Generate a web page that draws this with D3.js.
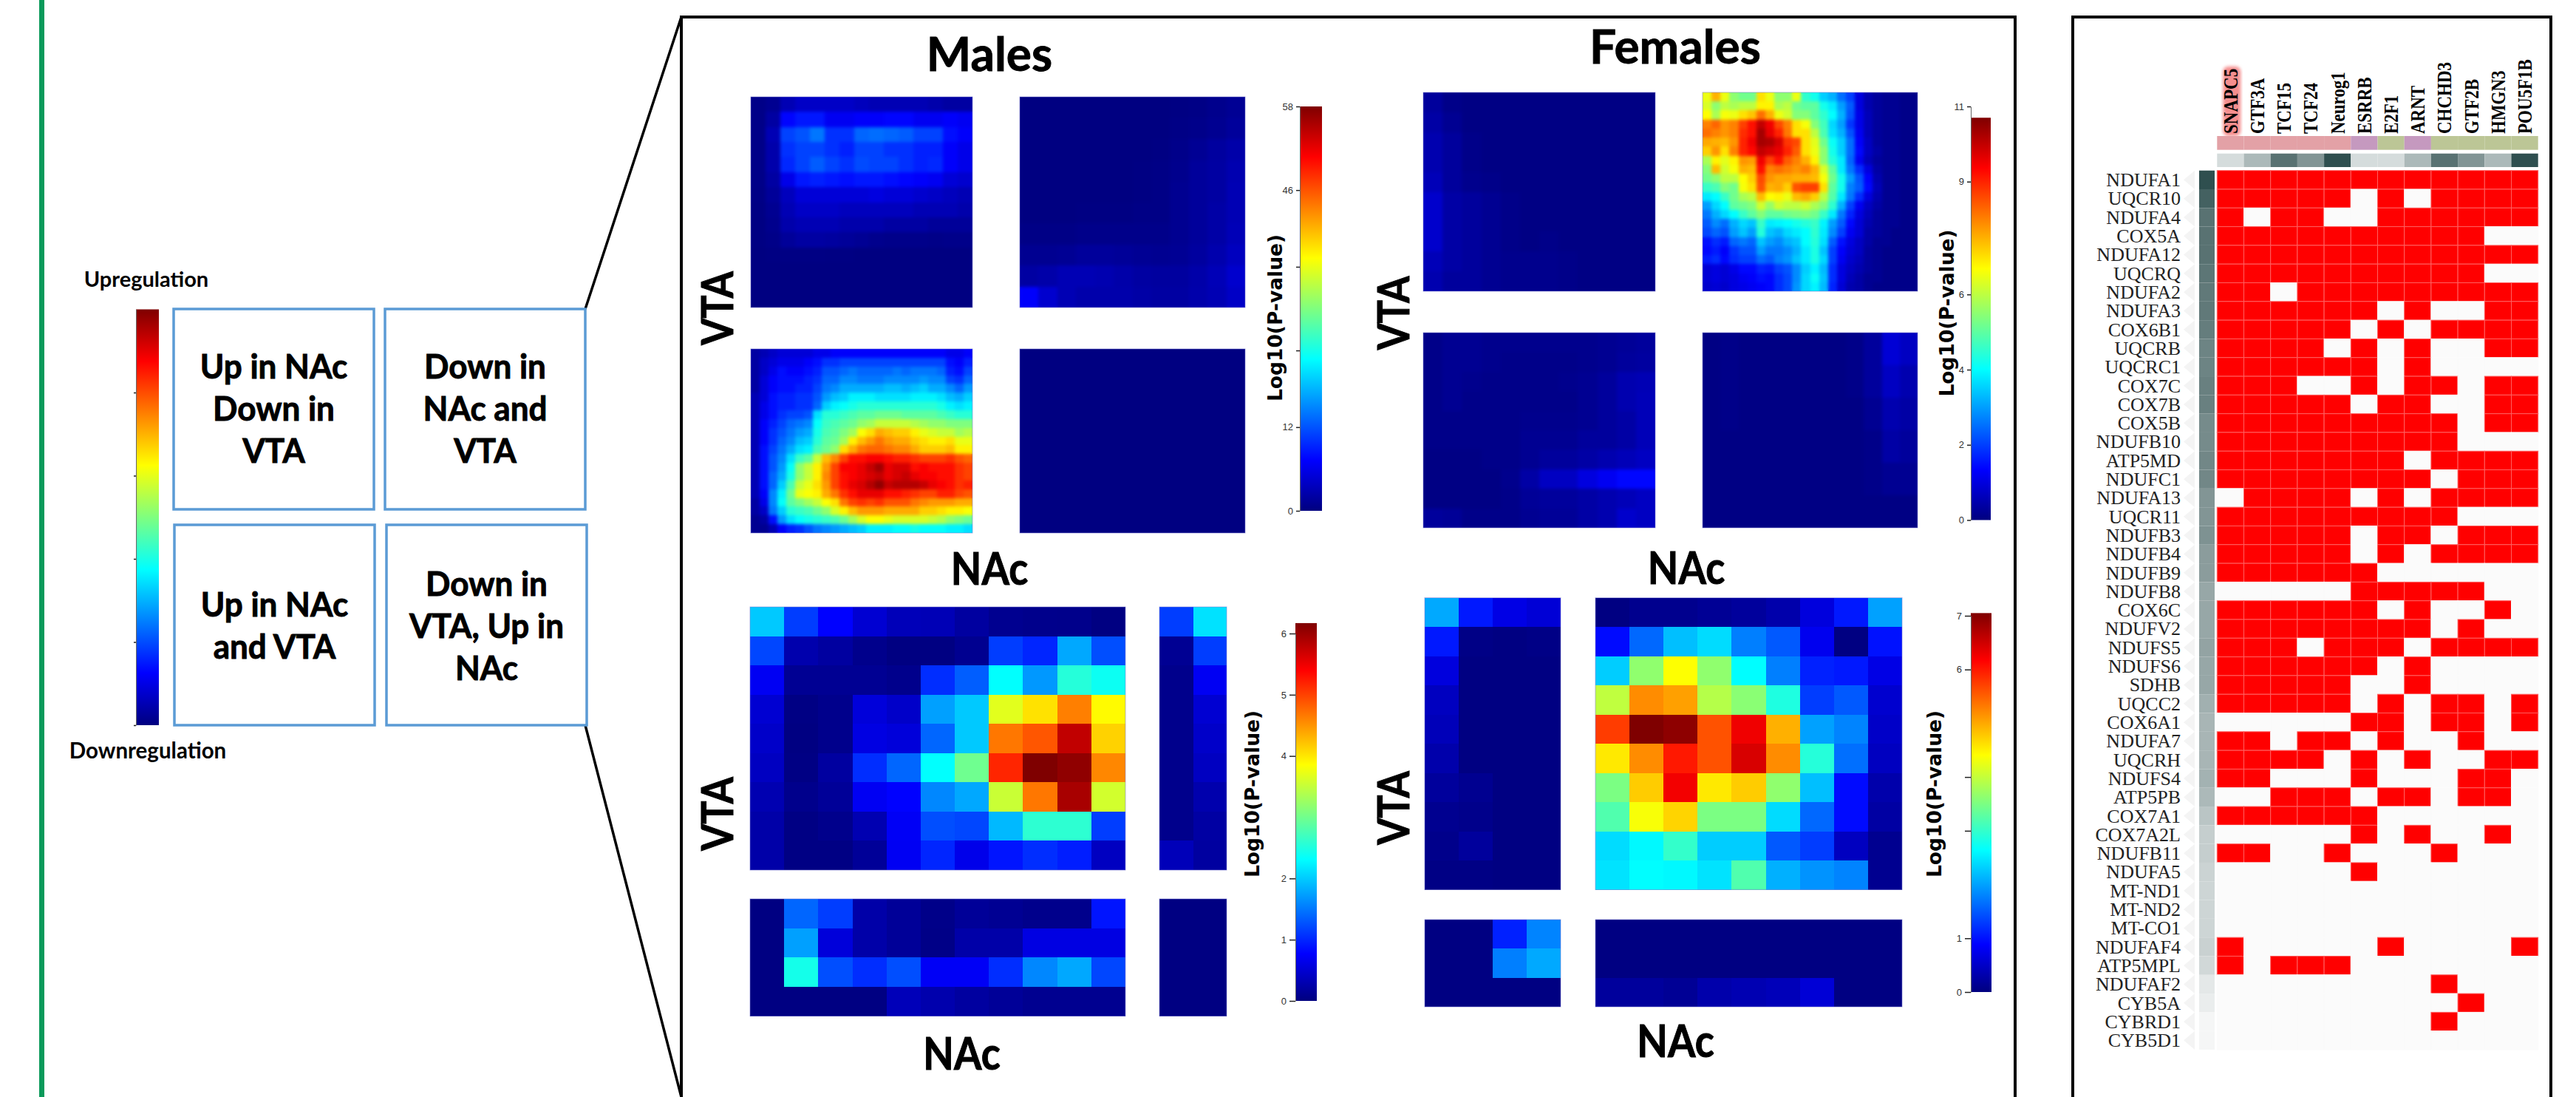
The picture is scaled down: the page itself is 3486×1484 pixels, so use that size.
<!DOCTYPE html>
<html>
<head>
<meta charset="utf-8">
<script src="https://cdn.jsdelivr.net/npm/d3@7"></script>
<style>
body { margin: 0; background: #fff; }
text { font-family: Lato, "Open Sans", sans-serif; font-weight: 700; fill: #000; }
.big { stroke: #000; stroke-width: 0.9px; }
.axis_lbl { font-family: "DejaVu Sans", sans-serif; }
.tick text { font-family: "Liberation Sans Narrow", "Liberation Sans", sans-serif; font-weight: 400; fill: #333; }
.gene { font-family: "Liberation Serif", serif; font-weight: 400; fill: #222; }
.reg { font-family: "Liberation Serif", serif; font-weight: 700; }
</style>
</head>
<body>
<script>
// jet colormap
const a_jet_pos = [0, 0.125, 0.25, 0.375, 0.5, 0.625, 0.75, 0.875, 1];
const a_jet = ["#00007f", "#0000ff", "#007fff", "#00ffff", "#7fff7f", "#ffff00", "#ff7f00", "#ff0000", "#7f0000"];

// ---- quadrant key
const a_key_ticks = [0, 1, 2, 3, 4];
const a_quad_text = [
    ["Up in NAc", "Down in", "VTA"],
    ["Down in", "NAc and", "VTA"],
    ["Up in NAc", "and VTA"],
    ["Down in", "VTA, Up in", "NAc"]
];

// ---- Males, RRHO panels, Log10(P-value)
const a_male_ul = [
    [.5,1,3,4,4,4,4,3.5,3,3,3,3,2.5,2,2],
    [.5,2,7.5,8.5,8.5,6.5,6.5,7,7,7.5,7.5,6.5,6.5,7,6.5],
    [.5,3,11,12,14,10,10,13,13.5,13,12.5,11,11,8,7],
    [.5,2.5,10,11,11,10,9,11,11,10,10,9,9,7,6],
    [.5,2.5,9.5,11,12.5,11,10,11.5,11,11,10,9,9.5,7,6],
    [.5,2,6,8.5,9,8.5,8,8.5,8.5,8,7.5,7,6.5,5,4.5],
    [.4,1.5,3.5,5,5,5,5,5,5.5,5,5,4.5,4,3.5,3],
    [.3,1,3,4,4,4,3.5,3.5,3.5,3.5,3.5,3,3,3,2.5],
    [.2,.8,2.5,3,3,3,2.5,2.5,2.5,2,2,2,1.5,1.5,1.5],
    [.2,.5,1.5,2,2,1.8,1.5,1.2,.8,.6,.6,.6,.5,.6,.6],
    [.1,.2,.3,.3,.3,.2,.2,.1,.1,.1,.1,.1,.1,.1,.1],
    [.1,.1,.1,.1,.1,.1,.1,.1,.1,.1,.1,.1,.1,.1,.1],
    [.1,.1,.1,.1,.1,.1,.1,.1,.1,.1,.1,.1,.1,.1,.1],
    [.1,.1,.1,.1,.1,.1,.1,.1,.1,.1,.1,.1,.1,.1,.1]
];
const a_male_ur = [
    [.1,.1,.1,.1,.1,.1,.1,.1,.2,.4,.8,1.2],
    [.1,.1,.1,.1,.1,.1,.1,.1,.4,.6,1,1.6],
    [.1,.1,.1,.1,.1,.1,.1,.2,.6,1.2,1.8,2.4],
    [.1,.1,.1,.1,.1,.1,.2,.4,.8,1.6,2,2.8],
    [.1,.1,.1,.1,.1,.1,.2,.4,1,1.6,2,3],
    [.1,.1,.1,.2,.2,.2,.4,.4,1,1.6,2.2,3],
    [.4,.4,.4,.6,.6,.6,.6,.6,1,1.6,2.2,3.2],
    [1,1,1.2,1.6,1.6,1.4,1.2,1,1.2,1.8,2.6,3.6],
    [2,2.4,3,3,2.8,2.4,2,1.8,1.8,2.4,3.2,4.4],
    [7,4.5,3,2.5,2.5,2.5,2.2,2,2,2.5,3,4]
];
const a_male_ll = [
    [2,3,4,5,5,5,5,6,6,7,7,7,7,7,7,7,7,7,7,7,7,7,6,6,7],
    [2,4,5,6,6,6,7,8,10,10,11,11,11,11,11,11,11,11,11,11,11,11,8,7,9],
    [2,4,6,8,7,7,8,9,12,12,13,14,13,13,13,13,14,13,14,14,14,13,9,8,11],
    [2,5,7,8,8,8,9,10,13,13,15,15,14,14,14,15,15,15,15,16,15,15,11,10,13],
    [2,5,7,8,8,9,9,11,14,15,17,17,17,17,17,18,18,17,18,19,17,17,15,13,16],
    [3,5,8,9,9,10,10,12,16,18,19,21,21,21,20,20,20,20,21,21,21,20,18,17,19],
    [3,6,8,9,9,10,10,13,19,21,22,23,24,24,24,24,24,24,24,24,24,23,21,20,21],
    [3,6,8,10,11,11,12,20,24,24,25,26,27,27,28,28,28,27,27,27,27,26,25,24,24],
    [3,7,9,11,13,14,15,22,25,26,27,28,30,31,33,33,33,33,32,31,30,30,29,29,29],
    [3,7,10,12,14,16,17,23,26,27,29,31,36,38,41,40,39,39,37,35,34,33,33,31,32],
    [3,7,10,13,15,18,19,24,27,28,31,37,40,42,44,42,41,41,39,38,37,37,38,35,35],
    [3,8,11,14,17,20,21,26,28,30,38,41,44,45,45,44,43,43,41,39,39,39,40,37,37],
    [3,8,12,15,20,25,27,33,40,43,47,50,50,51,51,50,49,49,48,47,47,47,48,46,45],
    [3,8,12,16,22,30,33,37,42,47,51,51,52,54,56,52,53,53,50,51,50,50,50,48,47],
    [3,8,13,17,23,30,33,37,43,47,50,51,52,53,54,52,53,54,52,51,51,50,50,48,47],
    [3,8,13,19,26,33,35,38,42,47,50,52,53,55,57,54,55,55,55,54,52,51,50,48,49],
    [3,7,15,21,28,35,36,37,41,44,48,50,52,52,52,50,50,49,48,47,47,49,49,47,46],
    [2,6,15,22,27,29,31,33,36,38,44,47,48,47,48,46,46,46,44,43,42,42,42,41,41],
    [2,4,14,19,24,25,26,28,30,34,37,40,42,42,42,41,41,41,41,39,39,38,37,37,36],
    [1,2,8,16,20,22,23,24,25,26,28,31,34,36,36,35,34,34,34,34,33,32,30,29,28],
    [1,1,3,7,9,10,12,14,15,16,17,18,19,21,21,21,22,22,23,22,22,22,21,21,20]
];
const a_male_lr = [[.1]];
const a_male_ticks = [0, 12, 23, 35, 46, 58];
const a_male_labels = [0, 12, 46, 58];

// ---- Females, RRHO panels
const a_female_ul = [
    [.3,.1,.05,.05,.05,.05,.05,.05,.05,.05,.05,.05],
    [.4,.2,.05,.05,.05,.05,.05,.05,.05,.05,.05,.05],
    [.5,.3,.1,.05,.05,.05,.05,.05,.05,.05,.05,.05],
    [.5,.3,.1,.05,.05,.05,.05,.05,.05,.05,.05,.05],
    [.6,.3,.15,.1,.05,.05,.05,.05,.05,.05,.05,.05],
    [.8,.4,.3,.2,.1,.05,.05,.05,.05,.05,.05,.05],
    [.8,.4,.3,.2,.1,.05,.05,.05,.05,.05,.05,.05],
    [.8,.4,.3,.2,.1,.05,.1,.05,.05,.05,.05,.05],
    [.6,.4,.3,.2,.15,.15,.15,.1,.05,.05,.05,.05],
    [.5,.3,.3,.2,.15,.15,.15,.1,.05,.05,.05,.05]
];
const a_female_ur = [
    [6.5,7.5,6.5,5.5,5.2,5.2,7,6.5,5.5,5.5,6.5,4.5,4.2,3.5,3.2,2.5,2,1,.5,.3,.2,.2,.1,.1],
    [6.3,5.5,6,5.8,6,6,6.8,6.8,5.8,6,5.2,5,5,4.2,3.8,3,2.3,1,.5,.3,.2,.2,.1,.1],
    [6.7,5.8,6.6,6.5,7,7.3,8.2,7.5,6.5,6.2,5.4,5.4,5,4.5,4,3.2,2.2,1.1,.6,.3,.2,.2,.1,.1],
    [8,8.3,7.8,8,8.7,9.2,10,9.5,8.6,8,7,6.6,5.4,4.7,3.6,3,1.9,1.1,.6,.3,.2,.2,.1,.1],
    [8.2,8,7.8,8,8.9,9.2,10.3,9.6,9,8.1,7,7,6,4.8,3.7,3.2,2.2,1.2,.6,.3,.2,.2,.1,.1],
    [7.6,7.5,7.4,7.8,9,9.5,10.3,10.2,9.8,8.8,8.6,7,6.4,5.2,4.1,3.5,2.5,1.3,.7,.3,.2,.2,.1,.1],
    [7.2,7.8,7,8,9,9.3,10,9.8,9.6,9,8.4,7,6.5,5.5,4.2,3.5,2.5,1.4,.7,.4,.2,.2,.1,.1],
    [5.8,6.8,6.4,6.8,7.8,7.7,9.5,8.7,9.2,8.4,8,7.5,6.8,5.5,4.4,3.8,2.4,1.2,.6,.3,.2,.2,.1,.1],
    [5.4,7.4,6.2,6.6,7.5,7.4,9.2,8,8.2,8,7.8,8,7.5,6.3,5,3.8,2.6,1.8,1,.4,.2,.2,.1,.1],
    [5.2,5.5,6,6,6.7,7.2,8.6,7.8,7.6,7.6,7.5,7.5,7.4,6.6,5.2,4.2,3,2.2,1.3,.5,.2,.2,.1,.1],
    [4.6,4.8,5.4,5.2,6.6,7,8.5,7.5,7.6,7.2,8.5,8.7,8.7,7,5,4.2,2.7,2.3,1.4,.6,.2,.2,.1,.1],
    [3.8,4,4.6,5.2,5.8,6,7.4,6.7,6.8,6.5,7.4,7.6,7.2,6,4.9,3.8,2.6,1.8,1,.5,.2,.2,.1,.1],
    [3,3.6,4,5,5.2,5.4,6.2,5.6,6.2,6,6,6.2,5.8,5.4,4.5,3.2,2,1.2,.7,.4,.2,.2,.1,.1],
    [2.6,3.2,3.6,4,4.6,5,5.4,5,5,5.2,5.3,5.4,5.2,4.6,3.8,2.6,1.7,1,.6,.3,.2,.2,.1,.1],
    [2.3,2.8,2.5,3.2,3.6,3.4,4.6,3.8,3.9,4,4.2,4.4,4.6,3.9,3,2.3,1.4,.9,.5,.3,.2,.2,.1,.1],
    [2.1,2.4,2.2,3,3.4,3,4.4,3.4,3.2,3.6,3.8,4,4.5,3.8,2.8,2,1.2,.9,.4,.3,.2,.1,.1,.1],
    [1.5,1.8,1.6,2.4,2.6,2.4,3.4,3,2.8,3.2,3.4,4,4.4,3.7,2.3,1.5,1,.7,.4,.2,.2,.1,.1,.1],
    [1.4,1.6,1.3,1.9,2.2,2.2,3,2.6,2.6,2.8,3.2,3.8,4.3,3.4,2,1.3,.9,.7,.3,.2,.1,.1,.1,.1],
    [1.6,1.8,1.4,1.8,2,2,2.5,2.3,2.7,2.9,3.4,3.8,4.3,3.6,2,1.2,.8,.6,.3,.2,.1,.1,.1,.1],
    [.9,1,.9,1.1,1.4,1.4,1.7,1.6,2,2.2,2.8,3.5,3.9,3.3,1.8,1,.7,.5,.3,.2,.1,.1,.1,.1],
    [.9,1,.9,1,1.2,1.3,1.5,1.4,1.8,2.1,2.8,3.6,4.1,3.4,1.8,1,.6,.4,.2,.2,.1,.1,.1,.1],
    [.8,.9,.8,1,1.1,1.2,1.3,1.4,1.8,2.1,2.9,3.6,3.9,3.3,1.7,.9,.5,.4,.2,.1,.1,.1,.1,.1]
];
const a_female_ll = [
    [.1,.2,.2,.15,.15,.15,.15,.15,.15,.2,.25,.3],
    [.1,.2,.2,.15,.1,.1,.1,.1,.15,.2,.3,.35],
    [.1,.2,.15,.1,.1,.1,.1,.15,.2,.3,.5,.55],
    [.1,.2,.1,.1,.1,.1,.1,.1,.2,.3,.5,.6],
    [.1,.1,.1,.1,.1,.15,.15,.15,.2,.3,.4,.6],
    [.1,.1,.1,.1,.1,.2,.2,.2,.3,.3,.4,.6],
    [.05,.05,.05,.1,.1,.2,.3,.3,.4,.5,.6,.7],
    [.05,.05,.05,.05,.15,.4,.7,.7,1,1.2,1.4,1.4],
    [.05,.05,.05,.05,.1,.25,.3,.3,.4,.5,.6,.7],
    [.3,.25,.1,.1,.1,.2,.25,.25,.4,.5,.8,.7]
];
const a_female_lr = [
    [.05,.1,.05,.05,.05,.05,.05,.05,.1,.3,.9,.7],
    [.05,.1,.05,.05,.05,.05,.05,.05,.1,.3,.7,.5],
    [.05,.1,.05,.05,.05,.05,.05,.05,.05,.2,.5,.4],
    [.05,.05,.05,.05,.05,.05,.05,.05,.05,.1,.4,.3],
    [.05,.05,.05,.05,.05,.05,.05,.05,.05,.1,.2,.2],
    [.05,.05,.05,.05,.05,.05,.05,.05,.05,.05,.05,.05]
];
const a_female_ticks = [0, 2, 4, 6, 9, 11];

// ---- Males, binned panels
const a_mbin_main = [
    [2.0,1.15,.78,.5,.35,.33,.2,.1,.08,.07,.02],
    [1.2,.28,.2,.08,.02,.02,.1,1.15,1.0,1.8,1.25],
    [.7,.12,.12,.12,.08,1.05,1.35,2.33,1.7,2.55,2.4],
    [.5,.03,.08,.55,.45,1.75,2.0,3.7,4.05,4.65,3.9],
    [.45,.02,.08,.6,.55,1.4,2.0,4.7,4.9,5.8,4.15],
    [.4,.03,.2,1.05,1.4,2.33,3.0,5.2,6.2,6.1,4.6],
    [.3,.08,.15,.7,.78,1.6,1.8,3.55,4.7,5.95,3.6],
    [.25,.03,.08,.3,.72,1.25,1.2,1.9,2.6,2.6,1.15],
    [.25,.03,.03,.15,.7,1.0,.65,.9,1.05,.95,.4]
];
const a_mbin_side = [
    [1.15,2.15],[.12,1.15],[.08,.7],[.08,.5],[.08,.45],[.08,.4],[.08,.28],[.08,.22],[.35,.2]
];
const a_mbin_bottom = [
    [.02,1.4,1.15,.25,.15,.06,.15,.12,.08,.08,.9],
    [.02,1.75,.55,.25,.15,.05,.25,.25,.6,.6,.6],
    [.02,2.45,1.25,1.05,1.25,.72,.72,1.05,1.6,1.8,1.2],
    [.02,.02,.02,.02,.35,.28,.2,.15,.1,.1,.1]
];
const a_mbin_corner = [
    [.02,.02],[.02,.02],[.02,.02],[.02,.02]
];
const a_mbin_ticks = [0, 1, 2, 4, 5, 6];

// ---- Females, binned panels
const a_fbin_main = [
    [.02,.1,.1,.15,.2,.3,.65,1.05,2.0],
    [.95,1.6,2.2,2.4,1.76,1.5,.77,.02,1.0],
    [2.3,3.64,4.4,3.64,2.64,1.76,1.1,1.05,.7],
    [3.97,5.2,5.06,3.9,3.6,2.85,1.3,1.5,.55],
    [5.75,7.05,6.95,5.6,6.27,4.95,2.0,1.8,.5],
    [4.56,5.2,6.0,5.6,6.44,5.2,2.9,1.65,.45],
    [3.5,4.76,6.25,4.56,4.76,3.64,2.2,.95,.3],
    [3.2,4.36,4.7,3.5,3.5,2.4,1.6,.95,.25],
    [2.4,2.6,3.0,2.3,2.3,1.5,1.3,.45,.12],
    [2.45,2.64,2.6,2.45,3.2,2.1,1.9,1.8,.12]
];
const a_fbin_side = [
    [2.05,1.05,.7,.6],
    [1.05,.05,.02,.05],
    [.65,.02,.02,.02],
    [.45,.02,.02,.02],
    [.4,.02,.02,.02],
    [.3,.02,.02,.02],
    [.2,.12,.02,.02],
    [.12,.08,.02,.02],
    [.08,.2,.02,.02],
    [.04,.04,.02,.02]
];
const a_fbin_bottom = [
    [.02,.02,.02,.02,.02,.02,.02,.02,.02],
    [.02,.02,.02,.02,.02,.02,.02,.02,.02],
    [.2,.2,.15,.3,.35,.4,.6,.02,.02]
];
const a_fbin_corner = [
    [.02,.02,1.1,1.8],
    [.02,.02,1.76,2.05],
    [.02,.02,.02,.02]
];
const a_fbin_ticks = [0, 1, 3, 4, 6, 7];

// ---- regulators / target genes
const a_regulators = ["SNAPC5", "GTF3A", "TCF15", "TCF24", "Neurog1", "ESRRB", "E2F1", "ARNT", "CHCHD3", "GTF2B", "HMGN3", "POU5F1B"];
const a_reg_class = [0, 0, 0, 0, 0, 1, 2, 1, 2, 2, 2, 2];
const a_reg_level = [.2, .4, .8, .6, 1, .2, .2, .4, .8, .6, .4, 1];
const a_genes = ["NDUFA1", "UQCR10", "NDUFA4", "COX5A", "NDUFA12", "UQCRQ", "NDUFA2", "NDUFA3", "COX6B1", "UQCRB", "UQCRC1", "COX7C", "COX7B", "COX5B", "NDUFB10", "ATP5MD", "NDUFC1", "NDUFA13", "UQCR11", "NDUFB3", "NDUFB4", "NDUFB9", "NDUFB8", "COX6C", "NDUFV2", "NDUFS5", "NDUFS6", "SDHB", "UQCC2", "COX6A1", "NDUFA7", "UQCRH", "NDUFS4", "ATP5PB", "COX7A1", "COX7A2L", "NDUFB11", "NDUFA5", "MT-ND1", "MT-ND2", "MT-CO1", "NDUFAF4", "ATP5MPL", "NDUFAF2", "CYB5A", "CYBRD1", "CYB5D1"];
const a_gene_level = [1, .9, .8, .8, .8, .78, .76, .76, .74, .7, .7, .72, .72, .66, .66, .68, .68, .6, .6, .62, .56, .56, .5, .5, .5, .52, .5, .5, .45, .42, .42, .42, .44, .4, .33, .28, .28, .25, .24, .24, .24, .26, .22, .13, .1, .05, .05];
const a_hits = [
    "111111111111", "111110101111", "101100111111", "111111111100", "111111111111",
    "111111111100", "110111111111", "111111010011", "111110101111", "111101010011",
    "111111010000", "111001011011", "111110110011", "111111111011", "111111111000",
    "111111101111", "111111110111", "011110101111", "111111111000", "111110110111",
    "111110101111", "111111000000", "000001111100", "111111010010", "111111110100",
    "111011101111", "111111010000", "111110010000", "111110101101", "000001101101",
    "110110100100", "111101010011", "110001000110", "001110110110", "111111000000",
    "000001010010", "110010001000", "000001000000", "000000000000", "000000000000",
    "000000000000", "100000100001", "101110000000", "000000001000", "000000000100",
    "000000001000", "000000000000"
];

const a_class_colors = ["#e3a1a6", "#c599bf", "#bcc696"];

const svg = d3.select("body").append("svg")
    .attr("width", 3486).attr("height", 1484)
    .style("display", "block");
const defs = svg.append("defs");

defs.append("filter").attr("id", "f_smooth")
    .attr("color-interpolation-filters", "sRGB")
    .append("feGaussianBlur").attr("stdDeviation", 2);
defs.append("filter").attr("id", "f_glow")
    .append("feGaussianBlur").attr("stdDeviation", 2);
const grad = defs.append("linearGradient").attr("id", "g_jet")
    .attr("x1", 0).attr("y1", 1).attr("x2", 0).attr("y2", 0);
a_jet.forEach(function(c, i) {
    grad.append("stop").attr("offset", a_jet_pos[i]).attr("stop-color", c);
});

const jet = d3.scaleLinear().domain(a_jet_pos).range(a_jet);
var v_clip = 0;

function draw_cells(g, a_rows, box, v_max) {
    var x = d3.scaleBand().domain(d3.range(a_rows[0].length)).range([box.x, box.x + box.w]);
    var y = d3.scaleBand().domain(d3.range(a_rows.length)).range([box.y, box.y + box.h]);
    a_rows.forEach(function(row, r) {
        g.selectAll(".c" + r)
            .data(row)
            .enter().append("rect")
            .attr("x", function(d, i) { return x(i); })
            .attr("y", y(r))
            .attr("width", x.bandwidth())
            .attr("height", y.bandwidth())
            .attr("shape-rendering", "crispEdges")
            .attr("fill", function(d) { return jet(Math.min(d / v_max, 1)); });
    });
}

function draw_heatmap(a_rows, box, v_max, b_smooth) {
    var g = svg.append("g");
    draw_cells(g, a_rows, box, v_max);
    if (b_smooth) {
        v_clip++;
        defs.append("clipPath").attr("id", "clip" + v_clip)
            .append("rect").attr("x", box.x).attr("y", box.y).attr("width", box.w).attr("height", box.h);
        var g_s = svg.append("g").attr("clip-path", "url(#clip" + v_clip + ")")
            .append("g").attr("filter", "url(#f_smooth)");
        draw_cells(g_s, a_rows, box, v_max);
    }
    svg.append("rect")
        .attr("x", box.x).attr("y", box.y).attr("width", box.w).attr("height", box.h)
        .attr("fill", "none").attr("stroke", "#7a7ad0").attr("stroke-opacity", 0.55).attr("stroke-width", 1);
}

function draw_bar(x, w, y_0, y_top, v_top, v_max, a_ticks, a_labels, v_tick) {
    var y = d3.scaleLinear().domain([0, v_top]).range([y_0, y_top]);
    svg.append("rect")
        .attr("x", x).attr("y", y(v_max)).attr("width", w).attr("height", y(0) - y(v_max))
        .attr("fill", "url(#g_jet)");
    var axis = d3.axisLeft(y).tickValues(a_ticks).tickSize(v_tick).tickSizeOuter(0).tickPadding(4)
        .tickFormat(function(d) { return a_labels.indexOf(d) >= 0 ? d : ""; });
    var g = svg.append("g").attr("transform", `translate(${x},0)`).call(axis);
    g.selectAll("text").style("font-size", "13px");
    g.selectAll("line").attr("stroke", "#222").attr("stroke-width", 1.5);
    g.select(".domain").attr("stroke", "#666").attr("stroke-width", 1);
}

function big_text(v_txt, x, y, v_size, v_stretch) {
    svg.append("text").attr("class", "big")
        .attr("transform", `translate(${x},${y}) scale(1,${v_stretch || 1})`)
        .attr("text-anchor", "middle").style("font-size", v_size + "px").text(v_txt);
}
function plain_text(v_txt, x, y, v_size) {
    svg.append("text").attr("x", x).attr("y", y)
        .attr("text-anchor", "middle").style("font-size", v_size + "px").text(v_txt);
}
function rot_text(v_txt, x, y, v_size, v_class, v_stretch) {
    svg.append("text").attr("class", v_class)
        .attr("transform", `translate(${x},${y}) rotate(-90) scale(1,${v_stretch || 1})`)
        .attr("text-anchor", "middle").style("font-size", v_size + "px").text(v_txt);
}

// green rule and frames
svg.append("rect").attr("x", 53).attr("y", 0).attr("width", 7).attr("height", 1484).attr("fill", "#0b9a5b");
svg.append("path").attr("d", "M922,1484V23H2727V1484").attr("fill", "none").attr("stroke", "#000").attr("stroke-width", 4);
svg.append("path").attr("d", "M2805,1484V23H3452V1484").attr("fill", "none").attr("stroke", "#000").attr("stroke-width", 4);
svg.append("path").attr("d", "M792,418L922,23M792,981L922,1484").attr("fill", "none").attr("stroke", "#000").attr("stroke-width", 3.5);

// quadrant key
plain_text("Upregulation", 198, 388, 29);
plain_text("Downregulation", 200, 1026, 29.5);
draw_bar(184, 31, 981, 418.5, 5, 5, a_key_ticks, [], 3);

const a_quad_box = [
    {x: 235, y: 418, w: 271, h: 271, base: 512},
    {x: 521, y: 418, w: 271, h: 271, base: 512},
    {x: 236, y: 710, w: 271, h: 271, base: 833.5},
    {x: 523, y: 710, w: 271, h: 271, base: 806}
];
a_quad_box.forEach(function(b, i) {
    svg.append("rect").attr("x", b.x).attr("y", b.y).attr("width", b.w).attr("height", b.h)
        .attr("fill", "#fff").attr("stroke", "#5b9bd5").attr("stroke-width", 3.5);
    a_quad_text[i].forEach(function(v_line, j) {
        big_text(v_line, b.x + b.w / 2, b.base + j * 57, 44, 1.05);
    });
});

// Males, top
big_text("Males", 1339, 96, 64);
big_text("NAc", 1339, 791, 54, 1.12);
rot_text("VTA", 992, 417, 52, "big", 1.15);
draw_heatmap(a_male_ul, {x: 1016, y: 131, w: 300, h: 285}, 58, true);
draw_heatmap(a_male_ur, {x: 1380, y: 131, w: 305, h: 285}, 58, true);
draw_heatmap(a_male_ll, {x: 1016, y: 472, w: 300, h: 249}, 58, true);
draw_heatmap(a_male_lr, {x: 1380, y: 472, w: 305, h: 249}, 58, false);
draw_bar(1759, 30, 691, 144, 58, 58, a_male_ticks, a_male_labels, 5);
rot_text("Log10(P-value)", 1735, 430, 26.5, "axis_lbl");

// Females, top
big_text("Females", 2267, 85.5, 64);
big_text("NAc", 2282, 790, 54, 1.12);
rot_text("VTA", 1907, 423.5, 52, "big", 1.15);
draw_heatmap(a_female_ul, {x: 1926, y: 125, w: 314, h: 269}, 10.7, true);
draw_heatmap(a_female_ur, {x: 2304, y: 125, w: 291, h: 269}, 10.7, true);
draw_heatmap(a_female_ll, {x: 1926, y: 450, w: 314, h: 264}, 10.7, true);
draw_heatmap(a_female_lr, {x: 2304, y: 450, w: 291, h: 264}, 10.7, true);
draw_bar(2667, 27, 703.5, 144, 11, 10.7, a_female_ticks, a_female_ticks, 5);
rot_text("Log10(P-value)", 2644, 423.5, 26.5, "axis_lbl");

// Males, binned
big_text("NAc", 1301.5, 1446.5, 54, 1.12);
rot_text("VTA", 992, 1101, 52, "big", 1.15);
draw_heatmap(a_mbin_main, {x: 1015, y: 821, w: 508, h: 356}, 6.2, false);
draw_heatmap(a_mbin_side, {x: 1569, y: 821, w: 91, h: 356}, 6.2, false);
draw_heatmap(a_mbin_bottom, {x: 1015, y: 1216, w: 508, h: 158.5}, 6.2, false);
draw_heatmap(a_mbin_corner, {x: 1569, y: 1216, w: 91, h: 158.5}, 6.2, false);
draw_bar(1753, 29, 1354, 857, 6, 6.17, a_mbin_ticks, a_mbin_ticks, 8);
rot_text("Log10(P-value)", 1704, 1074, 26.5, "axis_lbl");

// Females, binned
big_text("NAc", 2267.5, 1430, 54, 1.12);
rot_text("VTA", 1907, 1093, 52, "big", 1.15);
draw_heatmap(a_fbin_main, {x: 2159, y: 808.5, w: 415, h: 395}, 7.05, false);
draw_heatmap(a_fbin_side, {x: 1928, y: 808.5, w: 184, h: 395}, 7.05, false);
draw_heatmap(a_fbin_bottom, {x: 2159, y: 1244, w: 415, h: 118}, 7.05, false);
draw_heatmap(a_fbin_corner, {x: 1928, y: 1244, w: 184, h: 118}, 7.05, false);
draw_bar(2667, 28, 1342, 833, 7, 7.05, a_fbin_ticks, [0, 1, 6, 7], 8);
rot_text("Log10(P-value)", 2626.5, 1074, 26.5, "axis_lbl");

// target gene matrix
const x_reg = d3.scaleBand().domain(a_regulators).range([3000.3, 3434.7]);
const y_gene = d3.scaleBand().domain(a_genes).range([230.7, 1420]);
const c_level = d3.scaleLinear().domain([0, 1]).range(["#ffffff", "#2f4f4f"]);

svg.append("rect").attr("x", x_reg("SNAPC5") + 8).attr("y", 90).attr("width", 24).attr("height", 94).attr("rx", 7)
    .attr("fill", "#f58e8e").attr("filter", "url(#f_glow)");

const g_hits = svg.append("g");
a_genes.forEach(function(gene, r) {
    g_hits.selectAll(".h" + r)
        .data(a_regulators)
        .enter().append("rect")
        .attr("x", function(d) { return x_reg(d); })
        .attr("y", y_gene(gene))
        .attr("width", x_reg.bandwidth())
        .attr("height", y_gene.bandwidth())
        .attr("fill", function(d, i) { return a_hits[r][i] == "1" ? "#ff0000" : "#fbfbfb"; })
        .attr("stroke", function(d, i) { return a_hits[r][i] == "1" ? "#ff6060" : "#fbfbfb"; })
        .attr("stroke-width", 1);
});

svg.selectAll(".gene_bar").data(a_genes).enter().append("rect")
    .attr("x", 2976).attr("width", 21)
    .attr("y", function(d) { return y_gene(d); })
    .attr("height", y_gene.bandwidth())
    .attr("fill", function(d, i) { return c_level(a_gene_level[i]); });

svg.selectAll(".gene_tri").data(a_genes).enter().append("path")
    .attr("d", function(d) {
        var y0 = y_gene(d);
        return d3.line()([[2955, y0 + y_gene.bandwidth() / 2], [2970, y0], [2970, y0 + y_gene.bandwidth()]]) + "Z";
    })
    .attr("fill", "#f4f4f4");

svg.selectAll(".gene").data(a_genes).enter().append("text")
    .attr("class", "gene")
    .attr("x", 2951)
    .attr("y", function(d) { return y_gene(d) + y_gene.bandwidth() / 2; })
    .attr("dy", "0.34em")
    .attr("text-anchor", "end")
    .style("font-size", "26px")
    .text(function(d) { return d; });

svg.selectAll(".cls").data(a_regulators).enter().append("rect")
    .attr("x", function(d) { return x_reg(d); })
    .attr("y", 184).attr("width", x_reg.bandwidth()).attr("height", 18.7)
    .attr("fill", function(d, i) { return a_class_colors[a_reg_class[i]]; });
svg.selectAll(".lvl").data(a_regulators).enter().append("rect")
    .attr("x", function(d) { return x_reg(d); })
    .attr("y", 207.7).attr("width", x_reg.bandwidth()).attr("height", 18.3)
    .attr("fill", function(d, i) { return c_level(a_reg_level[i]); });

svg.selectAll(".reg").data(a_regulators).enter().append("text")
    .attr("class", "reg")
    .attr("transform", function(d) {
        return `translate(${x_reg(d) + x_reg.bandwidth() / 2},181) rotate(-90) scale(1,1.2)`;
    })
    .attr("dy", "0.34em")
    .style("font-size", "23px")
    .text(function(d) { return d; });
</script>
</body>
</html>
